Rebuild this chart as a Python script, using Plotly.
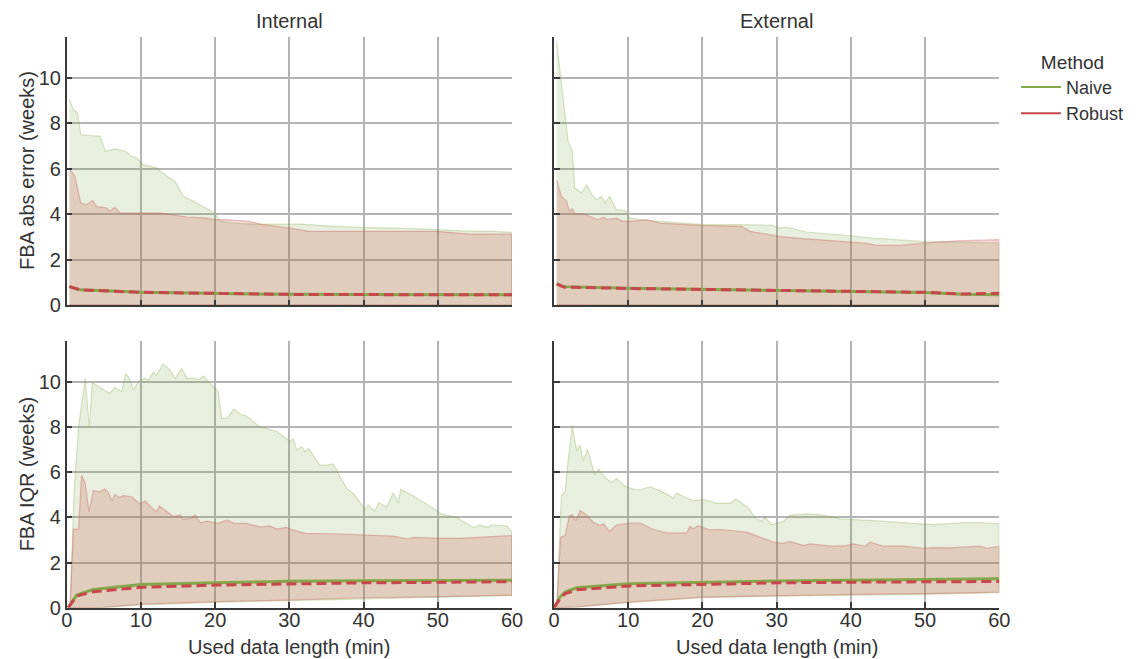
import plotly.graph_objects as go

# ---------------- data ----------------
x_ticks = [0, 10, 20, 30, 40, 50, 60]
y_ticks = [0, 2, 4, 6, 8, 10]
panel_titles = ["Internal", "External"]
row_titles = ["FBA abs error (weeks)", "FBA IQR (weeks)"]
x_title = "Used data length (min)"
methods = ["Naive", "Robust"]

# --- top-left: Internal, abs error ---
tl_naive_up_x = [0.36, 0.9, 1.45, 1.9, 3.1, 4.5, 5.2, 6.5, 7.9, 8.75, 9.4, 10.3, 12.1, 13.5, 14.6, 15.7, 17.1, 18.4, 19.8, 20.7, 22.4, 24.7, 27.4, 31.4, 35, 39.5, 44, 48.5, 53, 57.5, 60]
tl_naive_up_y = [9.05, 8.6, 8.46, 7.5, 7.46, 7.43, 6.77, 6.87, 6.77, 6.55, 6.48, 6.18, 6.04, 5.67, 5.45, 4.79, 4.57, 4.35, 4.08, 3.69, 3.61, 3.57, 3.57, 3.57, 3.49, 3.42, 3.39, 3.35, 3.27, 3.25, 3.2]
tl_robust_up_x = [0.36, 1.1, 1.9, 2.7, 3.5, 4.0, 5.4, 5.8, 6.5, 7.2, 12.6, 13.9, 16.2, 18.8, 19.8, 21.6, 24.5, 26.5, 30.1, 32.6, 39.5, 49.8, 54.3, 60]
tl_robust_up_y = [6.0, 5.67, 4.49, 4.42, 4.61, 4.35, 4.27, 4.13, 4.3, 4.05, 4.05, 3.98, 3.88, 3.83, 3.76, 3.76, 3.69, 3.54, 3.39, 3.25, 3.25, 3.25, 3.13, 3.13]
tl_naive_lo_x = [0.36, 10, 60]
tl_naive_lo_y = [0.02, 0.01, 0.01]
tl_robust_lo_x = [0.36, 10, 60]
tl_robust_lo_y = [0.02, 0.01, 0.01]
tl_naive_med_x = [0.36, 1.8, 10, 20, 30, 40, 50, 60]
tl_naive_med_y = [0.82, 0.68, 0.57, 0.51, 0.48, 0.47, 0.46, 0.46]
tl_robust_med_x = [0.36, 1.8, 10, 20, 30, 40, 50, 60]
tl_robust_med_y = [0.82, 0.68, 0.57, 0.51, 0.48, 0.47, 0.46, 0.46]

# --- top-right: External, abs error ---
tr_naive_up_x = [0.36, 0.8, 1.26, 1.9, 2.47, 2.8, 3.7, 4.4, 5.1, 5.75, 6.4, 6.9, 7.5, 8.4, 9.6, 10.2, 12.5, 16.1, 20.1, 25.1, 29.5, 30.4, 31.3, 31.8, 34, 38.5, 43, 47.5, 49.8, 54.2, 60]
tr_naive_up_y = [11.57, 10.37, 9.05, 7.21, 6.77, 5.15, 4.93, 5.3, 4.86, 4.64, 4.79, 4.49, 4.79, 4.2, 4.17, 3.83, 3.73, 3.64, 3.54, 3.54, 3.51, 3.39, 3.44, 3.39, 3.22, 3.1, 2.95, 2.85, 2.8, 2.78, 2.73]
tr_robust_up_x = [0.36, 1.0, 1.7, 2.07, 2.47, 2.8, 3.95, 5.95, 6.65, 7.3, 8.4, 9.3, 10.5, 12.5, 14.3, 19.7, 25.3, 26.4, 28.6, 30.4, 34, 38.5, 41.9, 43.5, 46.6, 49.8, 54.2, 60]
tr_robust_up_y = [5.49, 4.79, 4.57, 4.13, 4.24, 4.02, 4.02, 3.76, 3.86, 3.76, 3.83, 3.69, 3.69, 3.76, 3.61, 3.51, 3.47, 3.25, 3.13, 3.02, 2.92, 2.83, 2.73, 2.63, 2.63, 2.73, 2.83, 2.88]
tr_naive_lo_x = [0.36, 10, 60]
tr_naive_lo_y = [0.02, 0.01, 0.01]
tr_robust_lo_x = [0.36, 10, 60]
tr_robust_lo_y = [0.02, 0.01, 0.01]
tr_naive_med_x = [0.36, 1.3, 10, 20, 30, 40, 50, 55, 60]
tr_naive_med_y = [0.94, 0.82, 0.75, 0.70, 0.68, 0.60, 0.56, 0.48, 0.46]
tr_robust_med_x = [0.36, 1.3, 10, 20, 30, 40, 50, 55, 60]
tr_robust_med_y = [0.94, 0.80, 0.74, 0.70, 0.68, 0.61, 0.57, 0.50, 0.53]

# --- bottom-left: Internal, IQR ---
bl_naive_up_x = [0.45, 1.0, 1.6, 2.5, 3.05, 3.45, 5.8, 6.5, 7.4, 7.95, 8.45, 9.0, 9.65, 10.55, 11.0, 11.7, 12.1, 13.0, 13.9, 14.6, 15.5, 16.2, 17.3, 17.7, 18.4, 19.8, 20.4, 20.9, 21.6, 22.5, 23.6, 24.2, 26.0, 28.3, 30.1, 30.5, 31.0, 31.7, 32.1, 32.6, 34.1, 35.0, 35.9, 37.7, 38.6, 40.2, 40.6, 41.5, 42.1, 43.1, 44.0, 44.7, 45.0, 46.7, 48.5, 50.5, 52.5, 54.8, 55.7, 56.8, 57.2, 59.3, 60]
bl_naive_up_y = [0.0, 5.2, 8.0, 10.15, 7.94, 9.96, 9.48, 9.75, 9.56, 10.37, 10.15, 9.63, 10.0, 10.15, 10.07, 10.44, 10.3, 10.78, 10.52, 10.15, 10.59, 10.15, 10.15, 10.07, 10.25, 9.78, 9.56, 8.38, 8.38, 8.79, 8.53, 8.48, 8.01, 7.79, 7.35, 7.49, 6.98, 7.12, 6.9, 7.05, 6.31, 6.31, 6.36, 5.28, 5.06, 4.35, 4.54, 4.28, 4.65, 4.44, 5.09, 4.62, 5.24, 4.94, 4.59, 4.14, 4.0, 3.55, 3.66, 3.55, 3.66, 3.61, 3.36]
bl_robust_up_x = [0.45, 0.9, 1.6, 2.0, 2.5, 3.0, 3.6, 4.5, 5.1, 5.6, 6.1, 6.5, 7.1, 7.6, 8.75, 9.9, 10.55, 11.4, 12.1, 12.5, 14.4, 15.3, 15.7, 16.8, 17.3, 18.0, 18.9, 20.4, 21.6, 22.5, 24.2, 26.0, 27.4, 28.3, 29.6, 30.5, 32.1, 35.0, 37.3, 39.5, 44.0, 46.0, 46.7, 50.7, 53.0, 60]
bl_robust_up_y = [0.0, 3.48, 3.48, 5.87, 5.5, 4.25, 5.18, 5.13, 5.25, 5.09, 4.73, 5.01, 4.87, 4.96, 4.91, 4.59, 4.73, 4.44, 4.25, 4.5, 4.03, 4.1, 3.92, 3.95, 4.1, 3.76, 3.83, 3.73, 3.88, 3.73, 3.73, 3.58, 3.61, 3.48, 3.55, 3.44, 3.29, 3.29, 3.26, 3.22, 3.17, 3.04, 3.11, 3.07, 3.07, 3.19]
bl_naive_lo_x = [0.45, 5, 10, 20, 30, 40, 50, 60]
bl_naive_lo_y = [0.0, 0.0, 0.12, 0.24, 0.31, 0.41, 0.46, 0.53]
bl_robust_lo_x = [0.45, 5, 10, 20, 30, 40, 50, 60]
bl_robust_lo_y = [0.0, 0.02, 0.16, 0.27, 0.34, 0.44, 0.49, 0.56]
bl_naive_med_x = [0.2, 1.35, 3.6, 10, 20, 30, 40, 60]
bl_naive_med_y = [0.0, 0.56, 0.81, 1.03, 1.10, 1.17, 1.19, 1.22]
bl_robust_med_x = [0.2, 1.35, 3.6, 10, 20, 30, 40, 60]
bl_robust_med_y = [0.0, 0.52, 0.71, 0.90, 1.00, 1.05, 1.10, 1.15]

# --- bottom-right: External, IQR ---
br_naive_up_x = [0.36, 1.0, 1.5, 1.9, 2.47, 3.05, 3.5, 3.95, 4.5, 5.5, 6.0, 7.1, 7.8, 8.4, 9.6, 10.7, 11.6, 12.9, 14.3, 15.2, 16.1, 16.5, 17.9, 18.8, 20.3, 21.9, 23.7, 24.5, 25.1, 26.2, 27.2, 28.0, 28.4, 29.3, 30.0, 30.9, 31.8, 34.0, 36.3, 38.5, 43.0, 47.5, 51.1, 54.2, 56.5, 60]
br_naive_up_y = [0.0, 4.95, 5.13, 6.5, 8.07, 6.94, 7.19, 6.5, 7.01, 5.87, 6.13, 5.69, 5.54, 5.72, 5.37, 5.25, 5.22, 5.35, 5.18, 5.03, 4.85, 5.07, 4.84, 4.74, 4.78, 4.62, 4.62, 4.81, 4.66, 4.41, 3.93, 3.82, 4.0, 3.68, 3.74, 3.82, 4.1, 4.15, 4.1, 3.93, 3.85, 3.74, 3.68, 3.74, 3.78, 3.71]
br_robust_up_x = [0.36, 0.9, 1.5, 2.07, 2.47, 2.96, 3.5, 4.2, 5.3, 6.2, 6.65, 7.5, 8.4, 10.2, 11.6, 13.4, 15.2, 17.9, 18.3, 18.8, 19.4, 21.0, 22.4, 26.0, 29.5, 30.9, 31.8, 33.6, 34.5, 36.3, 37.4, 39.4, 40.3, 41.9, 42.6, 44.4, 47.0, 49.8, 51.1, 53.3, 57.4, 58.3, 60]
br_robust_up_y = [0.0, 3.12, 3.19, 4.07, 4.1, 3.85, 4.29, 4.15, 3.78, 3.63, 3.71, 3.37, 3.66, 3.74, 3.74, 3.46, 3.31, 3.31, 3.6, 3.49, 3.63, 3.44, 3.46, 3.34, 2.9, 2.85, 2.93, 2.75, 2.82, 2.75, 2.72, 2.75, 2.82, 2.72, 2.9, 2.72, 2.72, 2.63, 2.66, 2.65, 2.72, 2.63, 2.71]
br_naive_lo_x = [0.36, 3, 10, 20, 30, 40, 50, 60]
br_naive_lo_y = [0.0, 0.02, 0.22, 0.44, 0.51, 0.56, 0.59, 0.66]
br_robust_lo_x = [0.36, 3, 10, 20, 30, 40, 50, 60]
br_robust_lo_y = [0.0, 0.04, 0.25, 0.47, 0.54, 0.59, 0.62, 0.69]
br_naive_med_x = [0.0, 0.8, 1.5, 3.05, 10, 20, 30, 40, 60]
br_naive_med_y = [0.0, 0.47, 0.69, 0.88, 1.06, 1.13, 1.18, 1.22, 1.28]
br_robust_med_x = [0.0, 0.8, 1.5, 3.05, 10, 20, 30, 40, 60]
br_robust_med_y = [0.0, 0.40, 0.62, 0.79, 0.96, 1.04, 1.10, 1.13, 1.16]

# ---------------- styling ----------------
GREEN = "#83a84a"
RED = "#c8464b"
GREEN_FILL = "rgba(130,165,70,0.18)"
RED_FILL = "rgba(195,85,75,0.22)"
GREEN_EDGE = "rgba(130,165,70,0.30)"
RED_EDGE = "rgba(200,80,80,0.35)"
TXT = "#333333"
AX = "#3a3a3a"
GRID = "#b4b4b4"
FONT = "Arial, Liberation Sans, sans-serif"

W, H = 1137, 659          # browser window
OFF = 8                   # page body margin
FW, FH = W - OFF, H - OFF


def px_x(p):
    return (p - OFF) / FW


def px_y(p):
    return 1 - (p - OFF) / FH


xdom = [[px_x(66.7), px_x(512)], [px_x(554), px_x(999.3)]]
ydom = [[px_y(305.3), px_y(36.7)], [px_y(607.7), px_y(341)]]

panels = [
    ("tl", 0, 0),
    ("tr", 0, 1),
    ("bl", 1, 0),
    ("br", 1, 1),
]

data = {k: v for k, v in globals().items() if k[:3] in ("tl_", "tr_", "bl_", "br_")}

fig = go.Figure()

for i, (key, r, c) in enumerate(panels):
    n = i + 1
    xa = "x" if n == 1 else f"x{n}"
    ya = "y" if n == 1 else f"y{n}"
    for meth, fill, edge in (("naive", GREEN_FILL, GREEN_EDGE), ("robust", RED_FILL, RED_EDGE)):
        ux, uy = data[f"{key}_{meth}_up_x"], data[f"{key}_{meth}_up_y"]
        lx, ly = data[f"{key}_{meth}_lo_x"], data[f"{key}_{meth}_lo_y"]
        fig.add_trace(go.Scatter(
            x=list(ux) + list(lx)[::-1], y=list(uy) + list(ly)[::-1],
            fill="toself", fillcolor=fill, mode="lines",
            line=dict(color=edge, width=1.2), showlegend=False,
            hoverinfo="skip", xaxis=xa, yaxis=ya))
    fig.add_trace(go.Scatter(
        x=data[f"{key}_naive_med_x"], y=data[f"{key}_naive_med_y"], mode="lines",
        line=dict(color=GREEN, width=3), name=methods[0], legendgroup="n",
        showlegend=False, xaxis=xa, yaxis=ya))
    fig.add_trace(go.Scatter(
        x=data[f"{key}_robust_med_x"], y=data[f"{key}_robust_med_y"], mode="lines",
        line=dict(color=RED, width=3, dash="10px,5px"), name=methods[1], legendgroup="r",
        showlegend=False, xaxis=xa, yaxis=ya))

# legend entries (solid line swatches, as in the reference legend)
for name, col, grp in ((methods[0], GREEN, "n"), (methods[1], RED, "r")):
    fig.add_trace(go.Scatter(x=[None], y=[None], mode="lines", name=name,
                             line=dict(color=col, width=2), legendgroup=grp,
                             showlegend=True, xaxis="x", yaxis="y"))

layout = dict(
    width=FW, height=FH, autosize=False,
    margin=dict(l=0, r=0, t=0, b=0),
    paper_bgcolor="white", plot_bgcolor="white",
    font=dict(family=FONT, size=20, color=TXT),
    legend=dict(x=px_x(1016), y=px_y(44), xanchor="left", yanchor="top",
                title=dict(text="Method", side="top center", font=dict(size=19)),
                font=dict(size=18), bgcolor="rgba(0,0,0,0)", tracegroupgap=0,
                itemwidth=40),
    showlegend=True,
)

for i, (key, r, c) in enumerate(panels):
    n = i + 1
    xk = "xaxis" if n == 1 else f"xaxis{n}"
    yk = "yaxis" if n == 1 else f"yaxis{n}"
    ya = "y" if n == 1 else f"y{n}"
    xa = "x" if n == 1 else f"x{n}"
    common = dict(showline=True, linecolor=AX, linewidth=1.5, mirror=False,
                  ticks="inside", ticklen=6, tickwidth=1.5, tickcolor=AX,
                  showgrid=True, gridcolor=GRID, gridwidth=1.6, zeroline=False,
                  tickfont=dict(size=20, color=TXT), automargin=False, fixedrange=True)
    layout[xk] = dict(common, domain=xdom[c], anchor=ya, range=[0, 60],
                      tickmode="array", tickvals=x_ticks, ticktext=[str(v) for v in x_ticks],
                      showticklabels=(r == 1), ticklabelstandoff=-6)
    layout[yk] = dict(common, domain=ydom[r], anchor=xa, range=[0, 11.8],
                      tickmode="array", tickvals=y_ticks, ticktext=[str(v) for v in y_ticks],
                      showticklabels=(c == 0))

annotations = []
for c in range(2):
    annotations.append(dict(text=panel_titles[c], x=sum(xdom[c]) / 2, y=px_y(21),
                            xref="paper", yref="paper", showarrow=False,
                            xanchor="center", yanchor="middle", font=dict(size=20, color=TXT)))
    annotations.append(dict(text=x_title, x=sum(xdom[c]) / 2, y=px_y(647),
                            xref="paper", yref="paper", showarrow=False,
                            xanchor="center", yanchor="middle", font=dict(size=20, color=TXT)))
for r in range(2):
    annotations.append(dict(text=row_titles[r], x=px_x(27), y=sum(ydom[r]) / 2,
                            xref="paper", yref="paper", showarrow=False, textangle=-90,
                            xanchor="center", yanchor="middle", font=dict(size=20, color=TXT)))
layout["annotations"] = annotations

fig.update_layout(layout)
fig.write_html("out.html")
